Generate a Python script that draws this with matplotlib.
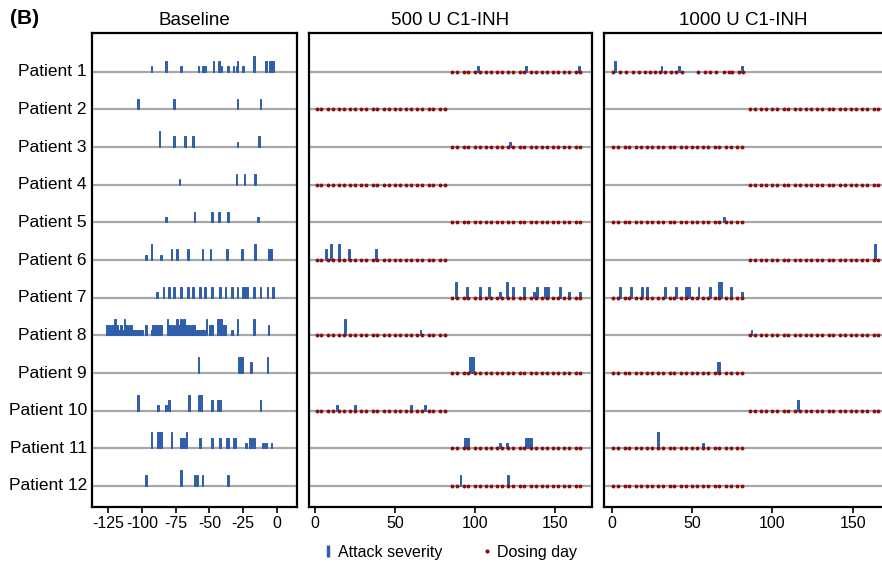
import matplotlib
matplotlib.use("Agg")
import matplotlib.pyplot as plt
from matplotlib.lines import Line2D

plt.rcParams['font.family'] = ['Liberation Sans', 'DejaVu Sans']
plt.rcParams['axes.unicode_minus'] = False

patients = ['Patient %d' % i for i in range(1, 13)]
titles = ['Baseline', '500 U C1-INH', '1000 U C1-INH']

# attack days and severity (1-3) per patient, baseline period
base_days = [
    [-93, -82, -71, -58, -55, -54, -53, -47, -43, -41, -36, -32, -30, -29, -25, -17, -8, -5, -4, -3],
    [-103, -76, -29, -12],
    [-87, -76, -68, -62, -29, -13],
    [-72, -30, -24, -16],
    [-82, -61, -48, -43, -36, -14],
    [-97, -93, -86, -78, -74, -66, -55, -49, -37, -26, -16, -6, -5, -4],
    [-89, -84, -80, -76, -71, -66, -62, -57, -53, -48, -42, -38, -33, -29, -25, -24, -23, -22, -17, -12, -7, -3],
    [-126, -125, -124, -123, -122, -121, -120, -119, -118, -117, -116, -115, -114, -113, -112, -111, -110,
     -109, -108, -107, -106, -105, -104, -103, -102, -101, -100, -97, -93, -92, -91, -90, -89, -88, -87, -86,
     -81, -80, -79, -78, -77, -76, -74, -73, -72, -71, -70, -69, -68, -67, -66, -65, -64, -63, -62, -61,
     -59, -58, -57, -56, -55, -54, -52, -50, -49, -48, -44, -43, -42, -41, -40, -39, -38, -33, -29, -17, -6],
    [-58, -28, -27, -26, -19, -7],
    [-103, -88, -82, -80, -65, -58, -57, -56, -48, -44, -43, -42, -12],
    [-93, -88, -87, -86, -78, -71, -70, -69, -67, -57, -48, -42, -37, -36, -32, -31, -23, -20, -19, -17, -10, -8, -4],
    [-97, -71, -61, -59, -55, -36],
]
base_sev = [
    [1, 2, 1, 1, 1, 1, 1, 2, 2, 1, 1, 1, 1, 2, 1, 3, 2, 2, 2, 2],
    [2, 2, 2, 2],
    [3, 2, 2, 2, 1, 2],
    [1, 2, 2, 2],
    [1, 2, 2, 2, 2, 1],
    [1, 3, 1, 2, 2, 2, 2, 2, 2, 2, 3, 2, 2, 2],
    [1, 2, 2, 2, 2, 2, 2, 2, 2, 2, 2, 2, 2, 2, 2, 2, 2, 2, 2, 2, 2, 2],
    [2, 2, 2, 1, 2, 2, 3, 2, 2, 1, 2, 2, 1, 3, 2, 2, 1,
     2, 2, 1, 1, 1, 1, 1, 1, 1, 1, 2, 1, 2, 2, 2, 2, 2, 2, 2,
     3, 2, 2, 2, 1, 2, 3, 2, 2, 3, 2, 3, 2, 2, 2, 2, 1, 2, 2, 2,
     1, 1, 1, 1, 1, 1, 3, 2, 2, 2, 3, 3, 3, 3, 2, 2, 2, 1, 3, 3, 2],
    [3, 3, 3, 3, 2, 3],
    [3, 1, 1, 2, 3, 3, 3, 3, 2, 2, 2, 2, 2],
    [3, 3, 3, 3, 3, 2, 2, 2, 3, 2, 2, 2, 2, 2, 2, 2, 1, 2, 2, 2, 1, 1, 1],
    [2, 3, 2, 2, 2, 2],
]

# 500 U C1-INH period
mid_days = [
    [102, 132, 165], [], [122], [], [],
    [7, 10, 15, 21, 38],
    [88, 95, 103, 109, 116, 120, 124, 131, 137, 139, 144, 145, 146, 153, 159, 166],
    [19, 66], [97, 98, 99], [14, 25, 60, 69],
    [94, 95, 96, 116, 120, 132, 133, 134, 135],
    [91, 121],
]
mid_sev = [
    [1, 1, 1], [], [1], [], [],
    [2, 3, 3, 2, 2],
    [3, 2, 2, 2, 1, 3, 2, 2, 1, 2, 2, 2, 2, 2, 1, 1],
    [3, 1], [3, 3, 3], [1, 1, 1, 1],
    [2, 2, 2, 1, 1, 2, 2, 2, 2],
    [2, 2],
]

# 1000 U C1-INH period
high_days = [
    [2, 31, 42, 81], [], [], [], [70], [164],
    [5, 12, 19, 22, 33, 40, 46, 47, 48, 54, 61, 67, 68, 74, 81],
    [87], [66, 67], [116], [29, 57], [],
]
high_sev = [
    [2, 1, 1, 1], [], [], [], [1], [3],
    [2, 2, 2, 2, 2, 2, 2, 2, 2, 2, 2, 3, 3, 2, 1],
    [1], [2, 2], [2], [3, 1], [],
]

# twice weekly dosing days, first and second treatment period
dose_first = [1, 4, 8, 11, 15, 18, 22, 25, 29, 32, 36, 39, 43, 46, 50, 53, 57, 60, 64, 67, 71, 74, 78, 81]
dose_second = [86, 89, 93, 96, 100, 103, 107, 110, 114, 117, 121, 124, 128, 131, 135, 138, 142, 145,
               149, 152, 156, 159, 163, 166]
dose_pat1_first = [1, 5, 9, 13, 17, 21, 24, 27, 30, 33, 37, 40, 44, 54, 58, 61, 65, 70, 73, 75, 79, 82]
# which period the 500 U dose was given in (1 or 2)
mid_period = [2, 1, 2, 1, 2, 1, 2, 1, 2, 1, 2, 2]

BLUE = '#2f5fab'
RED = '#8b0d0d'
GREY = '#a8a8a8'
UNIT = 0.141

W, H = 882, 564
fig = plt.figure(figsize=(W / 100, H / 100), dpi=100)


def px_axes(x0, x1, y0=33.3, y1=507.3):
    return fig.add_axes([x0 / W, 1 - y1 / H, (x1 - x0) / W, (y1 - y0) / H])


ax_b = px_axes(92, 297)
ax_m = px_axes(309, 592)
ax_h = px_axes(604, 882)
axes = [ax_b, ax_m, ax_h]


def draw_attacks(ax, days, sev):
    for i in range(12):
        row = i + 1
        if days[i]:
            ax.bar(days[i], [-s * UNIT for s in sev[i]], bottom=row, width=1.2,
                   color=BLUE, edgecolor=BLUE, linewidth=0.7, zorder=3)


for ax in axes:
    for i in range(12):
        ax.axhline(i + 1, color=GREY, lw=1.6, zorder=1)

draw_attacks(ax_b, base_days, base_sev)
draw_attacks(ax_m, mid_days, mid_sev)
draw_attacks(ax_h, high_days, high_sev)

for i in range(12):
    row = i + 1
    if mid_period[i] == 1:
        d_mid, d_high = dose_first, dose_second
    else:
        d_mid, d_high = dose_second, dose_first
    if i == 0:
        d_high = dose_pat1_first
    ax_m.plot(d_mid, [row] * len(d_mid), 'o', ms=2.8, color=RED, mew=0, zorder=4)
    ax_h.plot(d_high, [row] * len(d_high), 'o', ms=2.8, color=RED, mew=0, zorder=4)

ax_b.set_xlim(-137, 15)
ax_b.set_xticks([-125, -100, -75, -50, -25, 0])
ax_m.set_xlim(-3.8, 173.3)
ax_h.set_xlim(-4.8, 168.2)
for ax in (ax_m, ax_h):
    ax.set_xticks([0, 50, 100, 150])

for ax, t in zip(axes, titles):
    ax.set_ylim(12.566, -0.02)
    ax.set_yticks([])
    ax.set_title(t, fontsize=13.5, pad=6)
    ax.tick_params(axis='x', labelsize=11.5, length=4, width=1.2, direction='out', pad=2)
    for s in ax.spines.values():
        s.set_linewidth(1.6)

ax_h.spines['right'].set_visible(False)

for i, p in enumerate(patients):
    ax_b.text(-0.025, i + 1, p, transform=ax_b.get_yaxis_transform(),
              ha='right', va='center', fontsize=12.5)

fig.text(10 / W, 1 - 18 / H, '(B)', fontsize=15, fontweight='bold', va='center', ha='left')

handles = [
    Line2D([], [], marker='|', ls='none', color=BLUE, ms=9, mew=2.5),
    Line2D([], [], marker='o', ls='none', color=RED, ms=3, mew=0),
]
fig.legend(handles, ['Attack severity', 'Dosing day'], loc='center', ncol=2,
           bbox_to_anchor=(450 / W, 1 - 552 / H), frameon=False, fontsize=11.5,
           handlelength=0.6, handletextpad=0.3, columnspacing=2.5)

fig.savefig('out.png', dpi=100)
